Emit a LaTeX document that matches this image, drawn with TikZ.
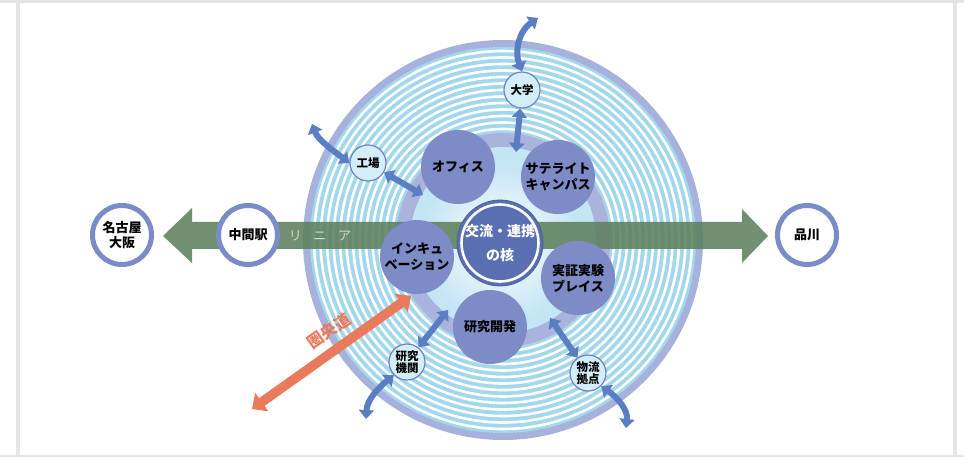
\documentclass[tikz,border=0pt]{standalone}
\usepackage{fontspec}
\setmainfont{Noto Sans CJK JP}
\usetikzlibrary{arrows.meta}
\definecolor{framegray}{HTML}{E3E4E6}
\definecolor{ringlav}{HTML}{A6B1DC}
\definecolor{stripe}{HTML}{A3D7EC}
\definecolor{innerdisc}{HTML}{C3E5F4}
\definecolor{innerring}{HTML}{A9B3DC}
\definecolor{satfill}{HTML}{7D8BC7}
\definecolor{corefill}{HTML}{5870B2}
\definecolor{smallfill}{HTML}{D3EEF8}
\definecolor{smallborder}{HTML}{6C84C4}
\definecolor{stationring}{HTML}{7A8CC8}
\definecolor{linegreen}{HTML}{5E805E}
\definecolor{bluearrow}{HTML}{5B7DC1}
\definecolor{roadorange}{HTML}{E97A5C}
\definecolor{lineartext}{HTML}{CFDCCF}
\begin{document}
\begin{tikzpicture}[x=1pt,y=-1pt,
  satnode/.style={circle, fill=satfill, minimum size=74pt, inner sep=0pt, align=center,
    font=\fontsize{13}{16}\selectfont\bfseries},
  smallnode/.style={circle, fill=smallfill, draw=smallborder, line width=1.2pt, minimum size=36pt,
    inner sep=0pt, align=center, font=\fontsize{11.5}{12.5}\selectfont\bfseries},
  station/.style={circle, fill=white, draw=stationring, line width=5pt, minimum size=59pt,
    inner sep=0pt, align=center, font=\fontsize{13}{15}\selectfont\bfseries},
  blueduo/.style={bluearrow, line width=6pt,
    {Triangle[length=9pt,width=15pt]}-{Triangle[length=9pt,width=15pt]}},
  roadduo/.style={roadorange, line width=9.5pt,
    {Triangle[length=12pt,width=22pt]}-{Triangle[length=12pt,width=22pt]}}
]
\useasboundingbox (0,0) rectangle (964,457);
% frame
\fill[white] (0,0) rectangle (964,457);
\fill[framegray] (0,0) rectangle (964,3);
\fill[framegray] (16,0) rectangle (20,457);
\fill[framegray] (953,0) rectangle (957,457);
\fill[framegray] (0,455) rectangle (964,457);

% big ringed disc
\coordinate (C) at (503,240);
\fill[ringlav] (C) circle (200pt);
\fill[stripe] (C) circle (193pt);
\foreach \r in {111,117.5,...,190} { \draw[white, line width=2.6pt] (C) circle (\r pt); }
\fill[innerring] (C) circle (107pt);
\fill[innerdisc] (C) circle (93pt);
\shade[inner color=white, outer color=innerdisc] (500,243) circle (80pt);

% green linear arrow
\fill[linegreen, opacity=0.88] (163,236) -- (192,208) -- (192,222) -- (742,222) -- (742,209)
  -- (768,236) -- (742,263) -- (742,249) -- (192,249) -- (192,263) -- cycle;
\node[text=lineartext, font=\fontsize{13}{14}\selectfont] (linear) at (320,236) {リ\hspace{0.9em}ニ\hspace{0.9em}ア};

% stations
\node[station] (nagoya) at (122,235) {名古屋\\大阪};
\node[station] (chukan) at (248,235) {中間駅};
\node[station] (shinagawa) at (807,235) {品川};

% satellites
\node[satnode] (office) at (458,167) {オフィス};
\node[satnode] (satellite) at (558,177) {サテライト\\キャンパス};
\node[satnode] (incub) at (417,257) {インキュ\\ベーション};
\node[satnode] (jissho) at (578,278) {実証実験\\プレイス};
\node[satnode] (kenkyu) at (490,327) {研究開発};

% core
\node[circle, fill=corefill, draw=corefill!85!black, line width=0.8pt, minimum size=86pt,
  inner sep=0pt, align=center, text=white, font=\fontsize{14}{24}\selectfont\bfseries]
  (core) at (500,243) {交流・連携\\の核};
\draw[white, line width=2.6pt] (core.center) circle (38.5pt);

% small nodes
\node[smallnode] (daigaku) at (522,90) {大学};
\node[smallnode] (kojo) at (368,163) {工場};
\node[smallnode] (kikan) at (407,362) {研究\\機関};
\node[smallnode] (butsuryu) at (588,373) {物流\\拠点};

% straight blue arrows
\coordinate (dg) at (516,152);
\coordinate (kj) at (423,195);
\coordinate (kk) at (448,310);
\coordinate (br) at (550,318);
\draw[blueduo] (daigaku) -- (dg);
\draw[blueduo] (kojo) -- (kj);
\draw[blueduo] (kikan) -- (kk);
\draw[blueduo] (butsuryu) -- (br);

% curved blue arrows
\coordinate (dgo) at (538,18);
\coordinate (kjo) at (312,124);
\coordinate (kko) at (366,419);
\coordinate (bro) at (626,428);
\draw[blueduo] (daigaku.north) .. controls (514,50) and (520,30) .. (dgo);
\draw[blueduo] (kojo.west) .. controls (335,152) and (318,140) .. (kjo);
\draw[blueduo] (kikan.south west) .. controls (378,388) and (367,400) .. (kko);
\draw[blueduo] (butsuryu.south east) .. controls (618,398) and (628,410) .. (bro);

% ring road
\coordinate (rs) at (252,409);
\coordinate (re) at (411,296);
\draw[roadduo] (rs) -- (re);
\node[text=roadorange, rotate=35, font=\fontsize{16}{16}\selectfont\bfseries] (road) at (329,331) {圏央道};
\end{tikzpicture}
\end{document}
